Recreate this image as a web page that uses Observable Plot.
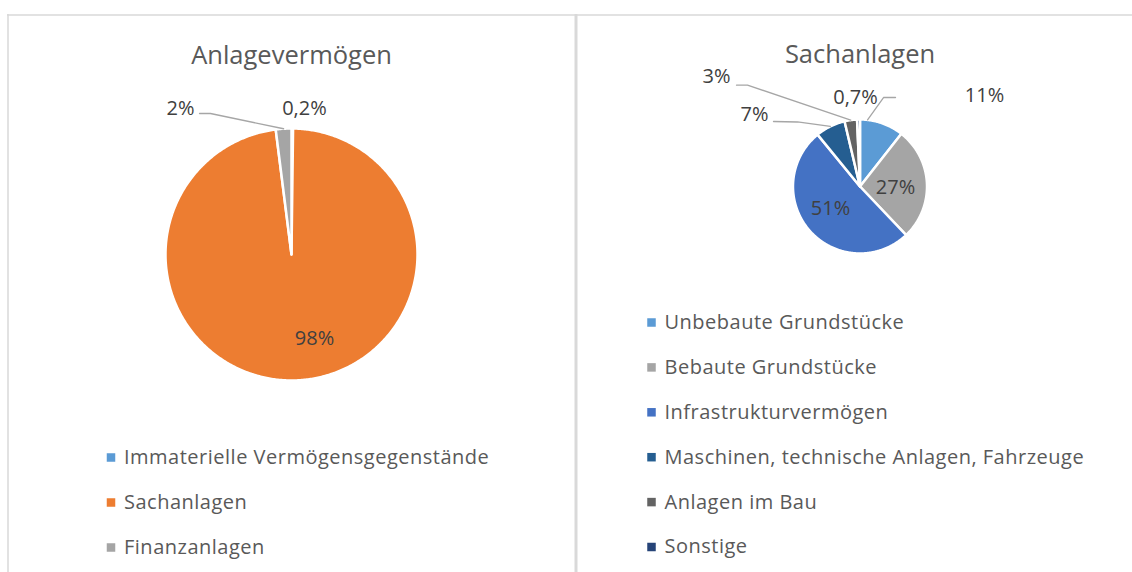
<!DOCTYPE html>
<html><head><meta charset="utf-8">
<script src="https://cdn.jsdelivr.net/npm/d3@7"></script>
<script src="https://cdn.jsdelivr.net/npm/@observablehq/plot@0.6"></script>
<style>
body{margin:0;background:#fff} svg{display:block}
</style>
</head><body><div id="chart"></div>
<script>
// ---------- data ----------
const leftTitle = "Anlagevermögen";
const leftCategories = ["Immaterielle Vermögensgegenstände", "Sachanlagen", "Finanzanlagen"];
const leftValues = [0.2, 97.8, 2.0];
const leftLabels = ["0,2%", "98%", "2%"];

const rightTitle = "Sachanlagen";
const rightCategories = ["Unbebaute Grundstücke", "Bebaute Grundstücke", "Infrastrukturvermögen",
  "Maschinen, technische Anlagen, Fahrzeuge", "Anlagen im Bau", "Sonstige"];
const rightValues = [10.6, 27.3, 51.2, 7.2, 3.0, 0.7];
const rightLabels = ["11%", "27%", "51%", "7%", "3%", "0,7%"];

// ---------- styles / layout ----------
const leftColors = ["#5B9BD5", "#ED7D31", "#A5A5A5"];
const rightColors = ["#5B9BD5", "#A5A5A5", "#4472C4", "#255E91", "#636363", "#264478"];
const W = 1132, H = 572;
const FONT = "'Open Sans', Lato, sans-serif";

const panels = [
  {title: leftTitle, categories: leftCategories, values: leftValues, labels: leftLabels, colors: leftColors,
   cx: 291, cy: 254, r: 126, titleY: 55, legendX: 110.5, legendY0: 457, legendStep: 45,
   labelPos: [[0.103, -1.159], [0.183, 0.667], [-0.881, -1.159]],
   leaders: [null, null, {pts: [[-0.730, -1.119], [-0.643, -1.119]], t: 0.5}]},
  {title: rightTitle, categories: rightCategories, values: rightValues, labels: rightLabels, colors: rightColors,
   cx: 859.5, cy: 186, r: 67, titleY: 54, legendX: 651, legendY0: 322, legendStep: 44.9,
   labelPos: [[1.858, -1.351], [0.530, 0.015], [-0.440, 0.328], [-1.575, -1.075], [-2.142, -1.642], [-0.067, -1.328]],
   leaders: [{pts: [[0.530, -1.328], [0.351, -1.328]], t: 0.17}, null, null,
             {pts: [[-1.291, -0.970], [-0.933, -0.963]], t: 0.5},
             {pts: [[-1.843, -1.513], [-1.679, -1.513]], t: 0.5}, null]}
];

const wedgePts = [], labelRows = [], leaderPts = [], legendRows = [], titleRows = [];
panels.forEach((p, pi) => {
  const arcs = d3.pie().sort(null).value(d => d)(p.values);
  arcs.forEach((a, i) => {
    const key = pi + "-" + i;
    const n = Math.max(2, Math.ceil((a.endAngle - a.startAngle) / 0.01));
    wedgePts.push({key, x: p.cx, y: p.cy, color: p.colors[i]});
    for (let k = 0; k <= n; k++) {
      const ang = a.startAngle + (a.endAngle - a.startAngle) * k / n;
      wedgePts.push({key, x: p.cx + p.r * Math.sin(ang), y: p.cy - p.r * Math.cos(ang), color: p.colors[i]});
    }
    const [u, v] = p.labelPos[i];
    labelRows.push({x: p.cx + u * p.r, y: p.cy + v * p.r, text: p.labels[i]});
    const L = p.leaders[i];
    if (L) {
      L.pts.forEach(([lu, lv]) => leaderPts.push({key, x: p.cx + lu * p.r, y: p.cy + lv * p.r}));
      const ang = a.startAngle + (a.endAngle - a.startAngle) * L.t;
      leaderPts.push({key, x: p.cx + p.r * Math.sin(ang), y: p.cy - p.r * Math.cos(ang)});
    }
    legendRows.push({x: p.legendX, y: p.legendY0 + i * p.legendStep, text: p.categories[i], color: p.colors[i]});
  });
  titleRows.push({x: p.cx, y: p.titleY, text: p.title});
});

const chart = Plot.plot({
  width: W, height: H, margin: 0,
  x: {type: "identity", axis: null},
  y: {type: "identity", axis: null},
  color: {type: "identity"},
  style: {fontFamily: FONT, background: "#fff"},
  marks: [
    Plot.ruleY([14.5], {x1: 7, x2: W, stroke: "#D9D9D9", strokeWidth: 1.5}),
    Plot.ruleX([7.5], {y1: 14, y2: H, stroke: "#D9D9D9", strokeWidth: 1.5}),
    Plot.ruleX([575.5], {y1: 14, y2: H, stroke: "#D9D9D9", strokeWidth: 3}),
    Plot.line(wedgePts, {x: "x", y: "y", z: "key", fill: "color", stroke: "white", strokeWidth: 2.5, strokeLinejoin: "round", curve: "linear-closed"}),
    Plot.line(leaderPts, {x: "x", y: "y", z: "key", stroke: "#A6A6A6", strokeWidth: 1.3}),
    Plot.text(labelRows, {x: "x", y: "y", text: "text", fill: "#404040", fontSize: 20, textAnchor: "middle", lineAnchor: "middle"}),
    Plot.text(titleRows, {x: "x", y: "y", text: "text", fill: "#595959", fontSize: 25.5, textAnchor: "middle", lineAnchor: "middle"}),
    Plot.dot(legendRows, {x: "x", y: "y", fill: "color", symbol: "square", r: 4.8, stroke: null}),
    Plot.text(legendRows, {x: d => d.x + 13, y: "y", text: "text", fill: "#595959", fontSize: 20, textAnchor: "start", lineAnchor: "middle"})
  ]
});
// widen legend text tracking (legend text is the last mark group) to match the reference's spacing
const groups = chart.querySelectorAll(":scope > g");
const legendGroup = groups[groups.length - 1];
if (legendGroup) legendGroup.setAttribute("letter-spacing", "0.5");
document.getElementById("chart").appendChild(chart);
</script>
</body></html>
